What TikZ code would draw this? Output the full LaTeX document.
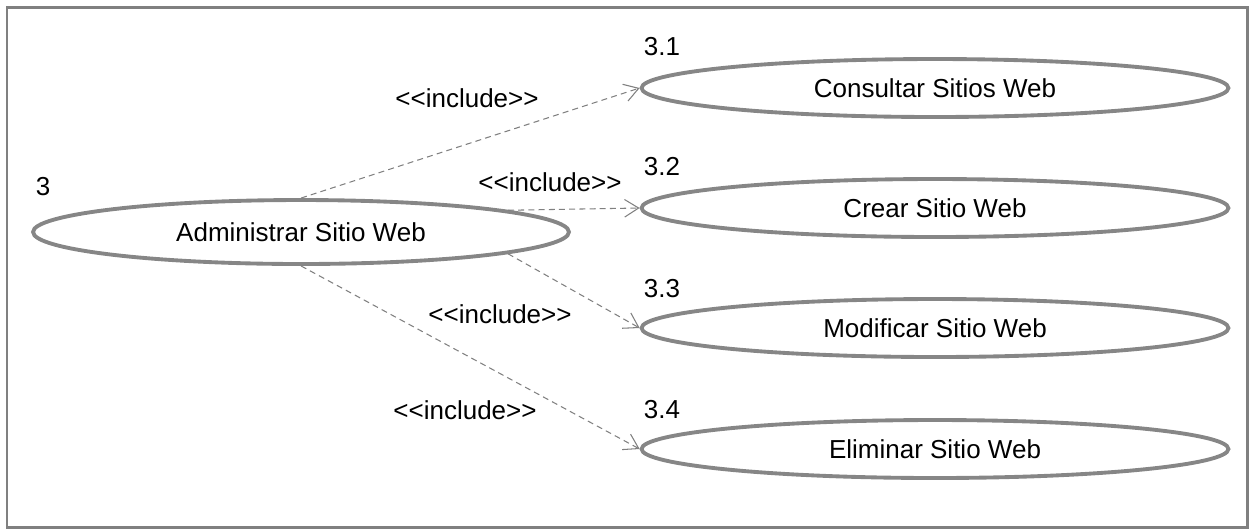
\documentclass[tikz,border=0pt]{standalone}
\usepackage{fontspec}
\setmainfont{Liberation Sans}
\usetikzlibrary{arrows.meta,shapes.geometric}

\newcommand{\stereo}[1]{{<}{<}#1{>}{>}}

\tikzset{
	usecase/.style={ellipse, draw=gray!95, line width=2.2pt, inner sep=0pt},
	incl/.style={draw=gray, line width=0.6pt, dash pattern=on 3.4pt off 2.4pt,
		-{Straight Barb[length=8pt,width=10pt]}}
}

\begin{document}
\begin{tikzpicture}[x=0.02cm, y=-0.02cm, font=\fontsize{14.8}{17}\selectfont]

	\useasboundingbox (0,0) rectangle (1251,529);
	\draw [gray, line width=1.7pt] (7,7) rectangle (1247,527);

	\node [usecase, minimum width=10.72cm, minimum height=1.28cm] (adm) at (301,232) {Administrar Sitio Web};
	\node (n3) at (43,187) {3};

	\node [usecase, minimum width=11.74cm, minimum height=1.16cm] (cons) at (935,88) {Consultar Sitios Web};
	\node [usecase, minimum width=11.74cm, minimum height=1.16cm] (crear) at (935,208) {Crear Sitio Web};
	\node [usecase, minimum width=11.74cm, minimum height=1.16cm] (modif) at (935,328) {Modificar Sitio Web};
	\node [usecase, minimum width=11.74cm, minimum height=1.16cm] (elim) at (935,449) {Eliminar Sitio Web};

	\node (n31) at (662,47) {3.1};
	\node (n32) at (662,167) {3.2};
	\node (n33) at (662,289) {3.3};
	\node (n34) at (662,410) {3.4};

	\draw [incl] (adm.north) -- (cons.west);
	\draw [incl] (adm.6) -- (crear.west);
	\draw [incl] (adm.-6) -- (modif.west);
	\draw [incl] (adm.south) -- (elim.west);

	\node (i1) at (467,98) {\stereo{include}};
	\node (i2) at (550,182) {\stereo{include}};
	\node (i3) at (500,314) {\stereo{include}};
	\node (i4) at (465,410) {\stereo{include}};

%\node at (935,500) {};
\end{tikzpicture}
\end{document}
